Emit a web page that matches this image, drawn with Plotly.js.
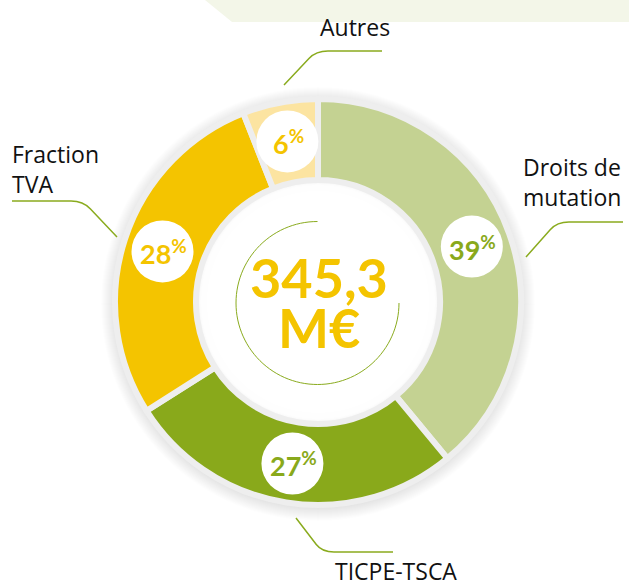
<!DOCTYPE html>
<html>
<head>
<meta charset="utf-8">
<script src="https://cdn.plot.ly/plotly-3.0.1.min.js"></script>
<style>
  html, body { margin: 0; padding: 0; background: #ffffff; }
  #chart { width: 629px; height: 587px; }
</style>
</head>
<body>
<div id="chart"></div>
<script>
// ---- data ----
const categories = ['Droits de mutation', 'TICPE-TSCA', 'Fraction TVA', 'Autres'];
const labelLines = ['Droits de<br>mutation', 'TICPE-TSCA', 'Fraction<br>TVA', 'Autres'];
const shares = [39, 27, 28, 6];
const totalLines = ['345,3', 'M€'];

// ---- style ----
const sliceColors = ['#c4d292', '#89a91b', '#f4c400', '#fce4a1'];
const pctColors = ['#89a91b', '#89a91b', '#f4c400', '#f4c400'];
const lineGreen = '#8aab1e';

const W = 629, H = 587;
const cx = 318, cy = 302, R = 203, r = 122;
const px = x => x / W;
const py = y => 1 - y / H;

function circleShape(x, y, rad, fill, layer, line) {
  return {
    type: 'circle', xref: 'paper', yref: 'paper', layer: layer,
    x0: px(x - rad), x1: px(x + rad), y0: py(y + rad), y1: py(y - rad),
    fillcolor: fill, line: line || { width: 0 }
  };
}

const shapes = [];
// top dotted band (approximated by a pale fill)
shapes.push({
  type: 'path', xref: 'paper', yref: 'paper', layer: 'below',
  path: `M ${px(205)} ${py(0)} L ${px(629)} ${py(0)} L ${px(629)} ${py(22)} L ${px(232)} ${py(22)} Z`,
  fillcolor: '#f3f6e8', line: { width: 0 }
});
// soft outer shadow
for (let k = 14; k >= 1; k--) {
  shapes.push(circleShape(cx, cy + 2, R + k, 'rgba(0,0,0,0.006)', 'below'));
}
// inner hole back to white with a soft inner shadow
for (let k = 1; k <= 10; k++) {
  shapes.push(circleShape(cx, cy, r - k, 'rgba(255,255,255,0.45)', 'below'));
}
shapes.push(circleShape(cx, cy, r - 11, '#ffffff', 'below'));

// thin open circle in the centre
(function () {
  const ra = 81.5, acx = 317.5, acy = 303;
  let d = '';
  for (let t = 90; t <= 360; t += 3) {
    const a = t * Math.PI / 180;
    const x = acx + ra * Math.sin(a), y = acy - ra * Math.cos(a);
    d += (d ? ' L ' : 'M ') + px(x) + ' ' + py(y);
  }
  shapes.push({ type: 'path', xref: 'paper', yref: 'paper', layer: 'above',
    path: d, line: { color: lineGreen, width: 1 } });
})();

// leader lines
const leaders = [
  [[526, 257], [557, 222], [623, 222]],   // Droits de mutation
  [[296, 518], [322, 552], [393, 552]],   // TICPE-TSCA
  [[117, 237], [83, 201], [12, 201]],     // Fraction TVA
  [[284, 85], [316, 51], [382, 51]]       // Autres
];
leaders.forEach(pts => {
  const [a, b, c] = pts;
  const t = 0.78;
  const b1 = [a[0] + (b[0] - a[0]) * t, a[1] + (b[1] - a[1]) * t];
  const dir = Math.sign(c[0] - b[0]);
  const b2 = [b[0] + dir * 12, b[1]];
  shapes.push({
    type: 'path', xref: 'paper', yref: 'paper', layer: 'above',
    path: `M ${px(a[0])} ${py(a[1])} L ${px(b1[0])} ${py(b1[1])} Q ${px(b[0])} ${py(b[1])} ${px(b2[0])} ${py(b2[1])} L ${px(c[0])} ${py(c[1])}`,
    line: { color: lineGreen, width: 1.5 }
  });
});

// percentage badges
const annotations = [];
const total = shares.reduce((s, v) => s + v, 0);
let cum = 0;
const rm = (R + r) / 2 + 1;
shares.forEach((v, i) => {
  const ang = (cum + v / 2) / total * 2 * Math.PI;
  cum += v;
  const x = cx + rm * Math.sin(ang), y = cy - rm * Math.cos(ang);
  shapes.push(circleShape(x, y, 31, '#ffffff', 'above'));
  annotations.push({
    xref: 'paper', yref: 'paper', x: px(x + 1), y: py(y + 1), xanchor: 'center', yanchor: 'middle',
    showarrow: false, text: '<b>' + v + '<sup>%</sup></b>',
    font: { family: 'Lato, sans-serif', size: 27, color: pctColors[i], weight: 900 }
  });
});

// category labels
const labelPos = [
  { x: 521, y: 182, xanchor: 'left', align: 'left' },
  { x: 396, y: 571, xanchor: 'center', align: 'center' },
  { x: 10, y: 169, xanchor: 'left', align: 'left' },
  { x: 355, y: 27, xanchor: 'center', align: 'center' }
];
labelLines.forEach((t, i) => {
  const p = labelPos[i];
  annotations.push({
    xref: 'paper', yref: 'paper', x: px(p.x), y: py(p.y), xanchor: p.xanchor, yanchor: 'middle',
    align: p.align, showarrow: false, text: t,
    font: { family: '"Open Sans", sans-serif', size: 23, color: '#111111' }
  });
});

// centre total
annotations.push({
  xref: 'paper', yref: 'paper', x: px(cx + 1), y: py(277), xanchor: 'center', yanchor: 'middle',
  showarrow: false, text: '<b>' + totalLines[0] + '</b>',
  font: { family: 'Lato, sans-serif', size: 54, color: '#f4c400' }
});
annotations.push({
  xref: 'paper', yref: 'paper', x: px(cx + 1), y: py(327), xanchor: 'center', yanchor: 'middle',
  showarrow: false, text: '<b>' + totalLines[1] + '</b>',
  font: { family: 'Lato, sans-serif', size: 54, color: '#f4c400' }
});

const trace = {
  type: 'pie',
  labels: categories,
  values: shares,
  sort: false,
  direction: 'clockwise',
  rotation: 0,
  hole: r / R,
  textinfo: 'none',
  hoverinfo: 'none',
  showlegend: false,
  marker: { colors: sliceColors, line: { color: '#eeeeee', width: 6 } },
  domain: { x: [px(cx - R), px(cx + R)], y: [py(cy + R), py(cy - R)] }
};

const layout = {
  width: W, height: H,
  margin: { l: 0, r: 0, t: 0, b: 0 },
  paper_bgcolor: '#ffffff',
  plot_bgcolor: '#ffffff',
  showlegend: false,
  shapes: shapes,
  annotations: annotations
};

Plotly.newPlot('chart', [trace], layout, { displayModeBar: false, staticPlot: true });
</script>
</body>
</html>
